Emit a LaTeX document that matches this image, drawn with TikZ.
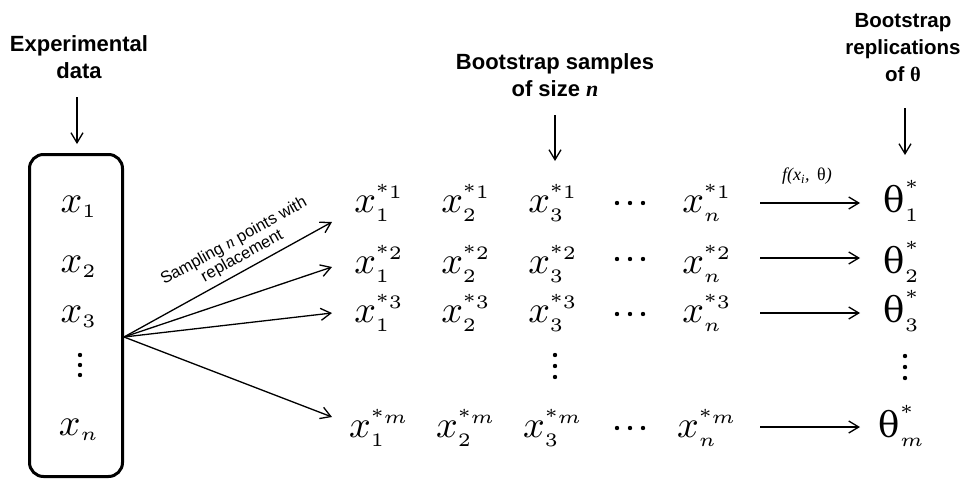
\documentclass[tikz,border=0pt]{standalone}
\usepackage{fontspec}
\usepackage{amsmath}
\usetikzlibrary{arrows.meta}
\newfontfamily\headfont{Liberation Sans}
\newfontfamily\seriffont{Liberation Serif}
\newfontfamily\thetafont{DejaVu Serif}

% one bootstrap sample element x_i^{*j}
\newcommand\bsSample[2]{$x_{\scriptscriptstyle #1}^{\scriptscriptstyle\text{*}#2}$}
% one bootstrap replication theta_j^*
\newcommand\bsTheta[1]{$\mbox{\thetafont\fontsize{9.3}{10}\selectfont θ}_{\scriptscriptstyle #1}^{\scriptscriptstyle\text{*}}$}

\begin{document}
\begin{tikzpicture}[x=1pt,y=-1pt,
  head/.style={font=\headfont\bfseries\fontsize{22}{27}\selectfont, align=center, inner sep=0pt},
  entry/.style={scale=3.8, inner sep=0pt, anchor=base},
  arr/.style={line width=1.3pt, -{Straight Barb[length=10pt,width=12pt]}},
  dot/.style={fill=black}]
\useasboundingbox (0,0) rectangle (962,482);

% headings
\node[head] (hdata) at (79,57) {Experimental\\data};
\node[head] (hsamp) at (555,75) {Bootstrap samples\\of size {\seriffont\itshape\bfseries n}};
\node[head, font=\headfont\bfseries\fontsize{20.5}{27}\selectfont] (hrep) at (903,48)
  {Bootstrap\\replications\\of {\seriffont θ}};

\coordinate (adata0) at (77,97);  \coordinate (adata1) at (77,144);
\coordinate (asamp0) at (555,115); \coordinate (asamp1) at (555,161);
\coordinate (arep0)  at (905,108); \coordinate (arep1)  at (905,155);
\draw[arr] (adata0) -- (adata1);
\draw[arr] (asamp0) -- (asamp1);
\draw[arr] (arep0) -- (arep1);

% experimental data box
\node[draw, line width=3pt, rounded corners=14pt, minimum width=93pt, minimum height=322pt, inner sep=0pt]
  (data) at (76,315.5) {};
\node[entry] (d1) at (79,212) {$x_{\scriptscriptstyle 1}$};
\node[entry] (d2) at (79,272) {$x_{\scriptscriptstyle 2}$};
\node[entry] (d3) at (79,322) {$x_{\scriptscriptstyle 3}$};
\node[entry] (dn) at (79,435) {$x_{\scriptscriptstyle n}$};
\foreach \k in {-10,0,10} \fill[dot] (80,365+\k) circle (2.2pt);

% bootstrap samples
\foreach \r/\b/\s in {1/212/1, 2/273/2, 3/322/3, m/437/m} {
  \node[entry] (s1\r) at (379,\b) {\bsSample{1}{\s}};
  \node[entry] (s2\r) at (466,\b) {\bsSample{2}{\s}};
  \node[entry] (s3\r) at (553,\b) {\bsSample{3}{\s}};
  \node[entry] (sn\r) at (707,\b) {\bsSample{n}{\s}};
  \node[entry] (t\r)  at (902,\b) {\bsTheta{\s}};
}
\foreach \y in {203,259,314,428}
  \foreach \k in {-13,0,13} \fill[dot] (630+\k,\y) circle (2.2pt);
\foreach \k in {-11,0,11} \fill[dot] (555,366+\k) circle (2.2pt);
\foreach \k in {-11,0,11} \fill[dot] (905,367+\k) circle (2.2pt);

% sampling with replacement
\coordinate (fan) at (124,337);
\coordinate (f1) at (332,222);
\coordinate (f2) at (332,267);
\coordinate (f3) at (332,313);
\coordinate (fm) at (332,417);
\draw[arr] (fan) -- node[pos=0.6, above=5pt, sloped, align=center, inner sep=0pt,
    font=\headfont\fontsize{16.5}{17}\selectfont] (samplab)
    {Sampling {\seriffont\itshape n} points with\\replacement} (f1);
\draw[arr] (fan) -- (f2);
\draw[arr] (fan) -- (f3);
\draw[arr] (fan) -- (fm);

% statistic applied to each sample
\foreach \r/\y in {1/203, 2/258, 3/313, m/427} {
  \coordinate (p\r) at (760,\y);
  \coordinate (q\r) at (860,\y);
  \draw[arr] (p\r) -- (q\r);
}
\node[font=\seriffont\itshape\fontsize{18}{20}\selectfont, inner sep=0pt] (flab) at (807,176)
  {f(x\textsubscript{i},\, {\upshape θ})};
\end{tikzpicture}
\end{document}
